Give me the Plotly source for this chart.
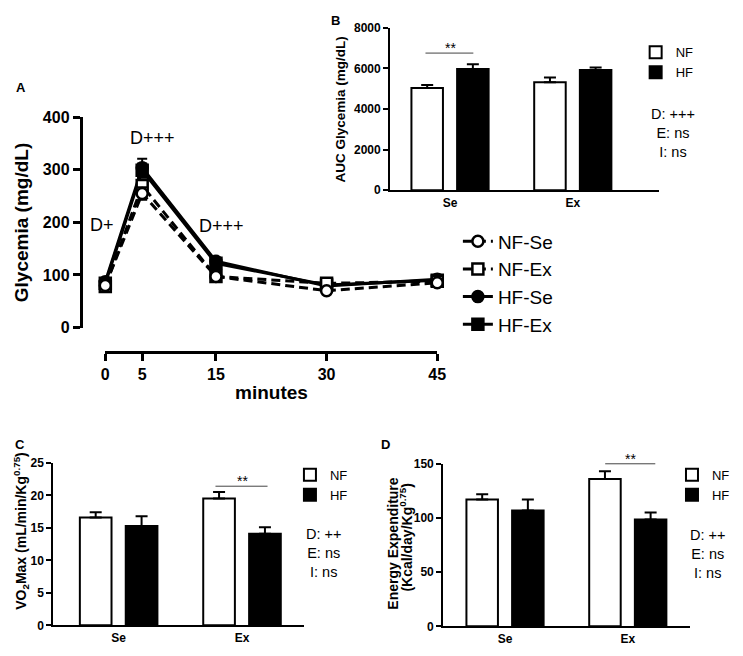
import plotly.graph_objects as go

# The page keeps the browser's default 8px body margin, so the figure is
# 16px smaller than the 743x656 window and every position is given in
# window pixels and converted below.
PAGE_W, PAGE_H, PAD = 743, 656, 8
W, H = PAGE_W - 2 * PAD, PAGE_H - 2 * PAD
F = "Liberation Sans, Arial, sans-serif"


def px(x):
    return (x - PAD) / W


def py(y):
    return 1 - (y - PAD) / H


# ---------------- Panel A: glycemia curve ----------------
minutes = [0, 5, 15, 30, 45]
nf_se = [80, 255, 97, 70, 85]
nf_ex = [78, 270, 97, 84, 88]
hf_se = [87, 304, 126, 79, 92]
hf_ex = [84, 299, 122, 81, 90]
nf_se_err = [5, 12, 5, 4, 4]
nf_ex_err = [5, 12, 5, 4, 4]
hf_se_err = [5, 17, 6, 4, 4]
hf_ex_err = [5, 13, 6, 4, 4]

# ---------------- Bar panels ----------------
groups = ["Se", "Ex"]
auc_nf = [5030, 5320]
auc_nf_err = [150, 230]
auc_hf = [5970, 5920]
auc_hf_err = [230, 120]

vo2_nf = [16.6, 19.5]
vo2_nf_err = [0.8, 1.0]
vo2_hf = [15.3, 14.1]
vo2_hf_err = [1.5, 1.0]

ee_nf = [117, 136]
ee_nf_err = [5, 7]
ee_hf = [107, 98.5]
ee_hf_err = [10, 6.5]

fig = go.Figure()

# Line traces (drawn HF first so NF open markers sit on top)
line_specs = [
    ("HF-Ex", hf_ex, hf_ex_err, "square", "black", "solid", 4),
    ("HF-Se", hf_se, hf_se_err, "circle", "black", "solid", 3),
    ("NF-Ex", nf_ex, nf_ex_err, "square", "white", "9px,5px", 2),
    ("NF-Se", nf_se, nf_se_err, "circle", "white", "9px,5px", 1),
]
for name, vals, err, sym, fill, dash, rank in line_specs:
    fig.add_trace(go.Scatter(
        x=minutes, y=vals, name=name, mode="lines+markers",
        line=dict(color="black", width=3, dash=dash),
        marker=dict(symbol=sym, size=11, color=fill,
                    line=dict(color="black", width=2.5)),
        error_y=dict(type="data", array=err, color="black",
                     thickness=2, width=5),
        cliponaxis=False, legendrank=rank, legend="legend",
        xaxis="x", yaxis="y",
    ))


def add_bars(nf, nf_err, hf, hf_err, xa, ya, leg):
    for name, vals, err, fill in [("NF", nf, nf_err, "white"),
                                  ("HF", hf, hf_err, "black")]:
        fig.add_trace(go.Bar(
            x=groups, y=vals, name=name,
            marker=dict(color=fill, line=dict(color="black", width=2)),
            error_y=dict(type="data", array=err, arrayminus=[0] * len(err),
                         symmetric=False, color="black", thickness=2, width=6),
            xaxis=xa, yaxis=ya, legend=leg, offsetgroup=name,
        ))


add_bars(auc_nf, auc_nf_err, auc_hf, auc_hf_err, "x2", "y2", "legend2")
add_bars(vo2_nf, vo2_nf_err, vo2_hf, vo2_hf_err, "x3", "y3", "legend3")
add_bars(ee_nf, ee_nf_err, ee_hf, ee_hf_err, "x4", "y4", "legend4")

boldA = dict(family=F, size=16, color="black", weight="bold")
bold12 = dict(family=F, size=12, color="black", weight="bold")

axA = dict(showline=True, linecolor="black", linewidth=3, ticks="outside",
           ticklen=7, tickwidth=3, tickcolor="black", showgrid=False,
           zeroline=False, tickfont=boldA)
ybar = dict(showline=True, linecolor="black", linewidth=2, ticks="outside",
            ticklen=5, tickwidth=2, tickcolor="black", showgrid=False,
            zeroline=False, tickfont=bold12)
xbar = dict(showline=True, linecolor="black", linewidth=2, ticks="",
            showgrid=False, zeroline=False, tickfont=bold12, type="category")

legfont13 = dict(family=F, size=13, color="black")

fig.update_layout(
    width=W, height=H, autosize=False,
    margin=dict(l=0, r=0, t=0, b=0),
    paper_bgcolor="white", plot_bgcolor="white",
    font=dict(family=F, color="black"),
    barmode="group", bargap=0.256, bargroupgap=0.31,
    xaxis=dict(axA, domain=[px(103), px(441)], range=[0, 45],
               tickvals=minutes, anchor="free", position=py(353)),
    yaxis=dict(axA, domain=[py(328), py(112)], range=[0, 400], dtick=100,
               anchor="free", position=px(78)),
    xaxis2=dict(xbar, domain=[px(393), px(667)], range=[-0.488, 1.704],
                anchor="y2"),
    yaxis2=dict(ybar, domain=[py(187), py(20)], range=[0, 8000], dtick=2000,
                anchor="x2"),
    xaxis3=dict(xbar, domain=[px(50), px(305)], range=[-0.53, 1.50],
                anchor="y3"),
    yaxis3=dict(ybar, domain=[py(634), py(467)], range=[0, 25], dtick=5,
                anchor="x3"),
    xaxis4=dict(xbar, domain=[px(447), px(698)], range=[-0.504, 1.504],
                anchor="y4"),
    yaxis4=dict(ybar, domain=[py(635), py(468)], range=[0, 150], dtick=50,
                anchor="x4"),
    legend=dict(x=px(462), y=py(220), xanchor="left", yanchor="top",
                font=dict(family=F, size=19, color="black"),
                bgcolor="rgba(0,0,0,0)", tracegroupgap=0),
    legend2=dict(x=px(643), y=py(30), xanchor="left", yanchor="top",
                 font=legfont13, bgcolor="rgba(0,0,0,0)", tracegroupgap=0),
    legend3=dict(x=px(291), y=py(464), xanchor="left", yanchor="top",
                 font=legfont13, bgcolor="rgba(0,0,0,0)", tracegroupgap=0),
    legend4=dict(x=px(680), y=py(464), xanchor="left", yanchor="top",
                 font=legfont13, bgcolor="rgba(0,0,0,0)", tracegroupgap=0),
)

ann = []


def note(text, x, y, size, bold=False, angle=0, xref="paper", yref="paper",
         xanchor="center", yanchor="middle", yshift=0):
    ann.append(dict(text=text, x=x, y=y, xref=xref, yref=yref,
                    showarrow=False, textangle=angle, xanchor=xanchor,
                    yanchor=yanchor, yshift=yshift,
                    font=dict(family=F, size=size, color="black",
                              weight="bold" if bold else "normal")))


# panel letters
note("A", px(17), py(81), 13, bold=True)
note("B", px(337), py(13), 13, bold=True)
note("C", px(16), py(448), 13, bold=True)
note("D", px(388), py(448), 13, bold=True)

# axis titles
note("Glycemia (mg/dL)", px(18), py(220), 19, bold=True, angle=-90)
note("minutes", px(272), py(395), 19, bold=True)
note("AUC Glycemia (mg/dL)", px(342), py(104), 13.5, bold=True, angle=-90)
note("VO<sub>2</sub>Max (mL/min/Kg<sup>0.75</sup>)", px(17), py(537), 14,
     bold=True, angle=-90)
note("Energy Expenditure", px(396), py(550), 14, bold=True, angle=-90)
note("(Kcal/day/Kg<sup>0.75</sup>)", px(409), py(543), 14, bold=True,
     angle=-90)

# panel A significance labels (D+ sits left of the x range, so paper coords)
note("D+", px(100), py(223), 18)
note("D+++", 6.4, 361, 18, xref="x", yref="y")
note("D+++", 15.8, 194, 18, xref="x", yref="y")

# stats boxes
note("D: +++<br>E: ns<br>I: ns", px(681), py(128), 14.5)
note("D: ++<br>E: ns<br>I: ns", px(325), py(560), 14.5)
note("D: ++<br>E: ns<br>I: ns", px(716), py(561), 14.5)

# significance brackets
note("**", 0, 6750, 14, xref="x2", yref="y2", yanchor="bottom", yshift=-5)
note("**", 1, 21.4, 14, xref="x3", yref="y3", yanchor="bottom", yshift=-5)
note("**", 1.02, py(468), 14, xref="x4", yref="paper", yanchor="bottom",
     yshift=-5)

fig.update_layout(annotations=ann)

shapes = [
    dict(type="line", xref="x2", yref="y2", x0=-0.2, x1=0.19, y0=6750,
         y1=6750, line=dict(color="#444", width=1)),
    dict(type="line", xref="x3", yref="y3", x0=0.785, x1=1.207, y0=21.4,
         y1=21.4, line=dict(color="#444", width=1)),
    dict(type="line", xref="x4", yref="paper", x0=0.816, x1=1.224,
         y0=py(468), y1=py(468), line=dict(color="#444", width=1)),
]
fig.update_layout(shapes=shapes)

fig.write_html("out.html", config={"displayModeBar": False})
